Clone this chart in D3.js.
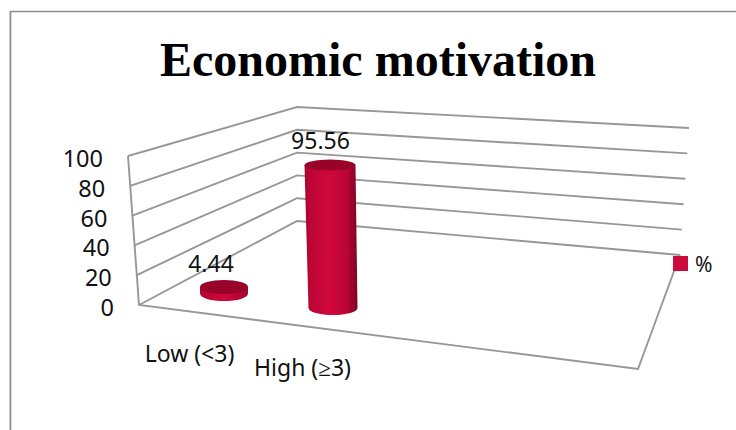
<!DOCTYPE html>
<html><head><meta charset="utf-8">
<script src="https://cdn.jsdelivr.net/npm/d3@7/dist/d3.min.js"></script>
<style>html,body{margin:0;padding:0;background:#fff}svg{display:block}</style>
</head><body><svg id="c" width="736" height="430"></svg>
<script>
const title = "Economic motivation";
const categories = ["Low (<3)", "High (≥3)"];
const values = [4.44, 95.56];
const valueLabels = ["4.44", "95.56"];
const ticks = [0, 20, 40, 60, 80, 100];
const seriesName = "%";

const svg = d3.select("#c");
const grid = "#979797", sans = "'Noto Sans'";

const defs = svg.append("defs");
const grad = defs.append("linearGradient").attr("id", "cyl");
[[0,"#a8062f"],[0.12,"#bd0636"],[0.5,"#d2073c"],[0.8,"#b90535"],[1,"#7e0323"]]
  .forEach(([o,c]) => grad.append("stop").attr("offset", o).attr("stop-color", c));
const gradLow = defs.append("linearGradient").attr("id", "cylLow");
[[0,"#b00530"],[0.5,"#d2073c"],[1,"#a20430"]]
  .forEach(([o,c]) => gradLow.append("stop").attr("offset", o).attr("stop-color", c));

// outer frame
svg.append("path").attr("d", "M9.5,430V11.5H736").attr("fill", "none").attr("stroke", "#e4e4e4").attr("stroke-width", 1);
svg.append("path").attr("d", "M10.5,430V11.5H736").attr("fill", "none").attr("stroke", "#8e8e8e").attr("stroke-width", 1.6);

// projected axes: one value scale per wall edge
const frontX = d3.scaleLinear([0,100],[139,128]), frontY = d3.scaleLinear([0,100],[305,156]);
const backX  = d3.scaleLinear([0,100],[297,297]), backY  = d3.scaleLinear([0,100],[221,107]);
const endX   = d3.scaleLinear([0,100],[680,689]), endY   = d3.scaleLinear([0,100],[255,128]);
const line = d3.line();

const gridG = svg.append("g").attr("fill","none").attr("stroke",grid).attr("stroke-width",1.9);
ticks.forEach(t => gridG.append("path").attr("d", line([
  [frontX(t),frontY(t)],[backX(t),backY(t)],[endX(t),endY(t)]])));
gridG.append("path").attr("d", line([[frontX(100),frontY(100)],[frontX(0),frontY(0)],[638,369],[endX(0),endY(0)]]));

// tick labels
svg.append("g").selectAll("text").data(ticks).join("text")
  .attr("x", t => frontX(t) - 25).attr("y", t => frontY(t) + 11)
  .attr("text-anchor","end").attr("font-family",sans).attr("font-size",23.5).attr("fill","#111")
  .text(d => d);

// cylinders
const cx = d3.scalePoint(categories,[224,333]);
const baseY = d3.scalePoint(categories,[293.6,308]);
const h = d3.scaleLinear([0,100],[0,149.6]);
const topCx = d3.scalePoint(categories,[224,330]);
const rxTop = d3.scalePoint(categories,[24,25.5]);
const rxBase = d3.scalePoint(categories,[24,24.5]);
const ryTop = d3.scalePoint(categories,[7,5.5]);
const ryBase = d3.scalePoint(categories,[7.5,7]);

categories.forEach((c,i) => {
  const v = values[i], b = baseY(c), t = b - h(v);
  const g = svg.append("g");
  g.append("path")
    .attr("d", `M${topCx(c)-rxTop(c)},${t}L${cx(c)-rxBase(c)},${b}A${rxBase(c)},${ryBase(c)} 0 0 0 ${cx(c)+rxBase(c)},${b}L${topCx(c)+rxTop(c)},${t}Z`)
    .attr("fill", i === 0 ? "url(#cylLow)" : "url(#cyl)");
  g.append("ellipse").attr("cx",topCx(c)).attr("cy",t).attr("rx",rxTop(c)).attr("ry",ryTop(c)).attr("fill","#9a0329");
});

// value labels
const labelX = d3.scalePoint(categories,[211,320.5]);
const labelY = d3.scalePoint(categories,[272,149]);
svg.append("g").selectAll("text").data(categories).join("text")
  .attr("x", labelX).attr("y", labelY).attr("text-anchor","middle")
  .attr("font-family",sans).attr("font-size",23).attr("fill","#111")
  .text((c,i) => valueLabels[i]);

// category labels
const catX = d3.scalePoint(categories,[189.5,302.5]);
const catY = d3.scalePoint(categories,[362,376]);
svg.append("g").selectAll("text").data(categories).join("text")
  .attr("x", catX).attr("y", catY).attr("text-anchor","middle")
  .attr("font-family",sans).attr("font-size",23).attr("fill","#111").text(d => d);

// legend
svg.append("rect").attr("x",673).attr("y",256).attr("width",15).attr("height",15).attr("fill","#cc0a3c");
svg.append("text").attr("x",695).attr("y",272).attr("font-family",sans).attr("font-size",21).attr("fill","#111").text(seriesName);

// title
svg.append("text").attr("x",378).attr("y",76).attr("text-anchor","middle")
  .attr("font-family","'Liberation Serif'").attr("font-weight","bold").attr("font-size",48).attr("fill","#000").text(title);
</script></body></html>
